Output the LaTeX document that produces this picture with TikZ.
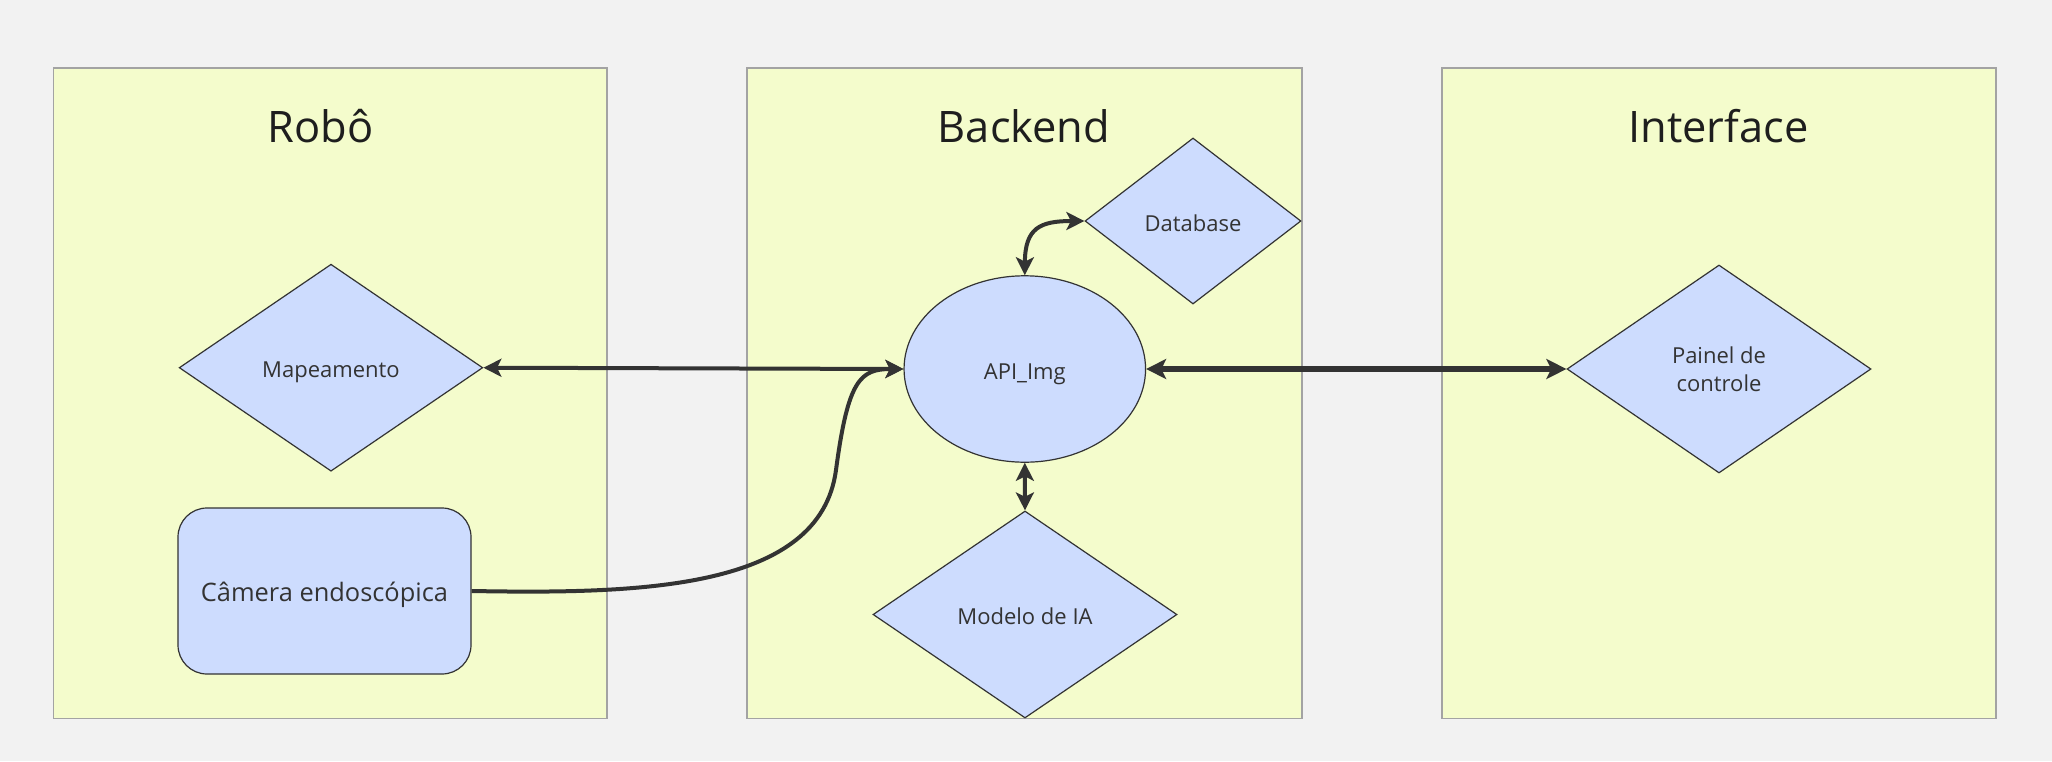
\documentclass[tikz,border=0pt]{standalone}
\usepackage{fontspec}
\setmainfont{Open Sans}
\usetikzlibrary{shapes.geometric,arrows.meta}
\definecolor{bgc}{HTML}{F2F2F2}
\definecolor{boxfill}{HTML}{F4FCCC}
\definecolor{boxline}{HTML}{A3A3A3}
\definecolor{nodefill}{HTML}{CDDCFE}
\definecolor{ink}{HTML}{333333}
\definecolor{titleink}{HTML}{1E1E1E}
\tikzset{
  group/.style={draw=boxline, line width=0.7pt, fill=boxfill, rectangle, inner sep=0pt},
  gtitle/.style={text=titleink, font=\fontsize{21.7pt}{26pt}\selectfont, inner sep=0pt},
  nd/.style={draw=ink, line width=0.6pt, fill=nodefill, text=ink, font=\fontsize{11pt}{14pt}\selectfont, inner sep=0pt, align=center},
  oneline/.style={text height=10pt, text depth=0pt},
  dia/.style={nd, diamond},
  conn/.style={draw=ink, line width=2pt, line cap=butt, >={Stealth[length=9pt,width=9pt,inset=2.2pt]}},
  thickconn/.style={draw=ink, line width=3pt, line cap=butt, >={Stealth[length=10pt,width=10pt,inset=2.4pt]}}
}
\begin{document}
\begin{tikzpicture}[x=0.5pt,y=-0.5pt]
\fill[bgc] (0,0) rectangle (2052,761);
\useasboundingbox (0,0) rectangle (2052,761);
% groups
\node[group, minimum width=276.65pt, minimum height=325.25pt] (robo) at (330.35,393.25) {};
\node[group, minimum width=277.5pt, minimum height=325.25pt] (back) at (1024.5,393.25) {};
\node[group, minimum width=277pt, minimum height=325.25pt] (inter) at (1719,393.25) {};
\node[gtitle] (t1) at (320.5,126) {Robô};
\node[gtitle] (t2) at (1024,126) {Backend};
\node[gtitle] (t3) at (1718.5,126) {Interface};
% nodes
\node[dia, oneline, minimum width=151.8pt, minimum height=103.5pt] (map) at (331,367.7) {Mapeamento};
\node[nd, oneline, rectangle, rounded corners=14.5pt, minimum width=146.5pt, minimum height=83pt, font=\fontsize{12.7pt}{15pt}\selectfont] (cam) at (324.5,591) {Câmera endoscópica};
\node[dia, oneline, minimum width=108pt, minimum height=83pt] (db) at (1193,221) {Database};
\node[nd, oneline, ellipse, minimum width=120.75pt, minimum height=93.2pt] (api) at (1024.8,369) {API\_Img};
\node[dia, oneline, minimum width=152pt, minimum height=103.5pt] (mod) at (1025,614.5) {Modelo de IA};
\node[dia, minimum width=152pt, minimum height=104pt] (pan) at (1719,369) {Painel de\\controle};
% connectors
\draw[conn, <->] (map.east) -- (api.west);
\draw[conn, ->] (cam.east) .. controls (640,594) and (820,590) .. (836,470) .. controls (848,380) and (860,369) .. (api.west);
\draw[conn, <->] (api.north) .. controls (1025,228) and (1040,221) .. (db.west);
\draw[conn, <->] (api.south) -- (mod.north);
\draw[thickconn, <->] (api.east) -- (pan.west);
\end{tikzpicture}
\end{document}
